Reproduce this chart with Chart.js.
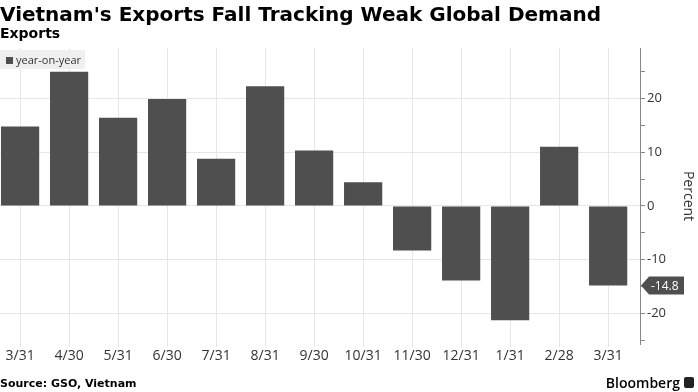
<!DOCTYPE html>
<html>
<head>
<meta charset="utf-8">
<script src="https://cdn.jsdelivr.net/npm/chart.js@4"></script>
<style>
  html, body { margin: 0; padding: 0; background: #fff; }
  body { width: 698px; height: 392px; position: relative; overflow: hidden; font-family: "DejaVu Sans", sans-serif; }
  #wrap { position: absolute; left: 0; top: 0; width: 698px; height: 392px; }
  .title { position: absolute; left: 0; top: 2px; font-size: 20px; font-weight: bold; color: #000; white-space: nowrap; }
  .subtitle { position: absolute; left: 0; top: 25px; font-size: 14px; font-weight: bold; color: #000; }
  .legend { position: absolute; left: 0; top: 50px; width: 85px; height: 19px; background: #efefef; font-family: "Open Sans", sans-serif; font-size: 11px; color: #333; line-height: 19px; }
  .legend i { display: inline-block; width: 7px; height: 7px; background: #4f4f4f; margin: 0 3px 0 6px; vertical-align: 0; }
  .source { position: absolute; left: 0; top: 377px; font-size: 11px; font-weight: bold; color: #000; }
  .brand { position: absolute; right: 18px; top: 373px; font-family: "Open Sans", sans-serif; font-size: 14px; font-weight: 600; color: #000; }
  .logo { position: absolute; right: 4px; top: 377px; width: 10px; height: 11px; background: #222; border-radius: 2px; }
</style>
</head>
<body>
<div id="wrap"><canvas id="chart" width="698" height="392"></canvas></div>
<div class="title">Vietnam's Exports Fall Tracking Weak Global Demand</div>
<div class="subtitle">Exports</div>
<div class="legend"><i></i>year-on-year</div>
<div class="source">Source: GSO, Vietnam</div>
<div class="brand">Bloomberg</div>
<div class="logo"></div>
<script>
// --- DADOS ---
const categories = ['3/31', '4/30', '5/31', '6/30', '7/31', '8/31', '9/30', '10/31', '11/30', '12/31', '1/31', '2/28', '3/31'];
const yoyValues = [14.8, 25.0, 16.4, 19.9, 8.8, 22.3, 10.3, 4.4, -8.3, -13.9, -21.3, 11.0, -14.8];
const yTicks = [-25, -20, -15, -10, -5, 0, 5, 10, 15, 20, 25];
const seriesName = 'year-on-year';
const axisTitle = 'Percent';

const barColor = '#4f4f4f';

// flag com o ultimo valor no eixo direito
const lastValueFlag = {
    id: 'lastValueFlag',
    afterDraw(chart) {
        const ctx = chart.ctx;
        const y = chart.scales.y;
        const v = yoyValues[yoyValues.length - 1];
        const py = y.getPixelForValue(v);
        const x0 = y.left + 1;
        ctx.save();
        ctx.fillStyle = '#4f4f4f';
        ctx.beginPath();
        ctx.moveTo(x0, py);
        ctx.lineTo(x0 + 8, py - 9);
        ctx.lineTo(x0 + 43, py - 9);
        ctx.lineTo(x0 + 43, py + 9);
        ctx.lineTo(x0 + 8, py + 9);
        ctx.closePath();
        ctx.fill();
        ctx.fillStyle = '#fff';
        ctx.font = '12px "Open Sans", sans-serif';
        ctx.textBaseline = 'middle';
        ctx.fillText(v.toFixed(1), x0 + 10, py + 1);
        ctx.restore();
    }
};

new Chart(document.getElementById('chart'), {
    type: 'bar',
    data: {
        datasets: [{
            label: seriesName,
            data: categories.map((c, i) => ({ x: i, y: yoyValues[i] })),
            backgroundColor: barColor,
            borderWidth: 0,
            categoryPercentage: 1,
            barPercentage: 0.78
        }]
    },
    options: {
        responsive: false,
        animation: false,
        layout: { padding: { top: 48, bottom: 26, left: 0, right: 0 } },
        plugins: { legend: { display: false }, tooltip: { enabled: false } },
        scales: {
            x: {
                type: 'linear',
                min: -0.41,
                max: 12.65,
                bounds: 'data',
                offset: false,
                grid: { offset: false, color: '#e6e6e6', tickColor: '#e6e6e6', tickLength: 3 },
                border: { display: false },
                afterBuildTicks: s => { s.ticks = categories.map((c, i) => ({ value: i })); },
                ticks: {
                    autoSkip: false,
                    maxRotation: 0,
                    padding: 1,
                    color: '#333',
                    font: { family: 'Open Sans', size: 14 },
                    callback: v => categories[v]
                },
                afterFit: s => { s.height = 22; }
            },
            y: {
                position: 'right',
                min: -25.7,
                max: 29.4,
                bounds: 'data',
                grid: {
                    color: c => (c.tick && c.tick.value % 10 === 0) ? '#e6e6e6' : 'rgba(0,0,0,0)',
                    tickColor: '#888',
                    tickLength: 5
                },
                border: { display: true, color: '#888', width: 1 },
                afterBuildTicks: s => { s.ticks = yTicks.map(v => ({ value: v })); },
                ticks: {
                    padding: 2,
                    color: '#333',
                    font: { family: 'Open Sans', size: 13 },
                    callback: v => v % 10 === 0 ? String(v) : ''
                },
                title: {
                    display: true,
                    text: axisTitle,
                    color: '#333',
                    font: { family: 'Open Sans', size: 14 },
                    padding: { top: 2, bottom: 0 }
                },
                afterFit: s => { s.width = 58; }
            }
        }
    },
    plugins: [lastValueFlag]
});
</script>
</body>
</html>
